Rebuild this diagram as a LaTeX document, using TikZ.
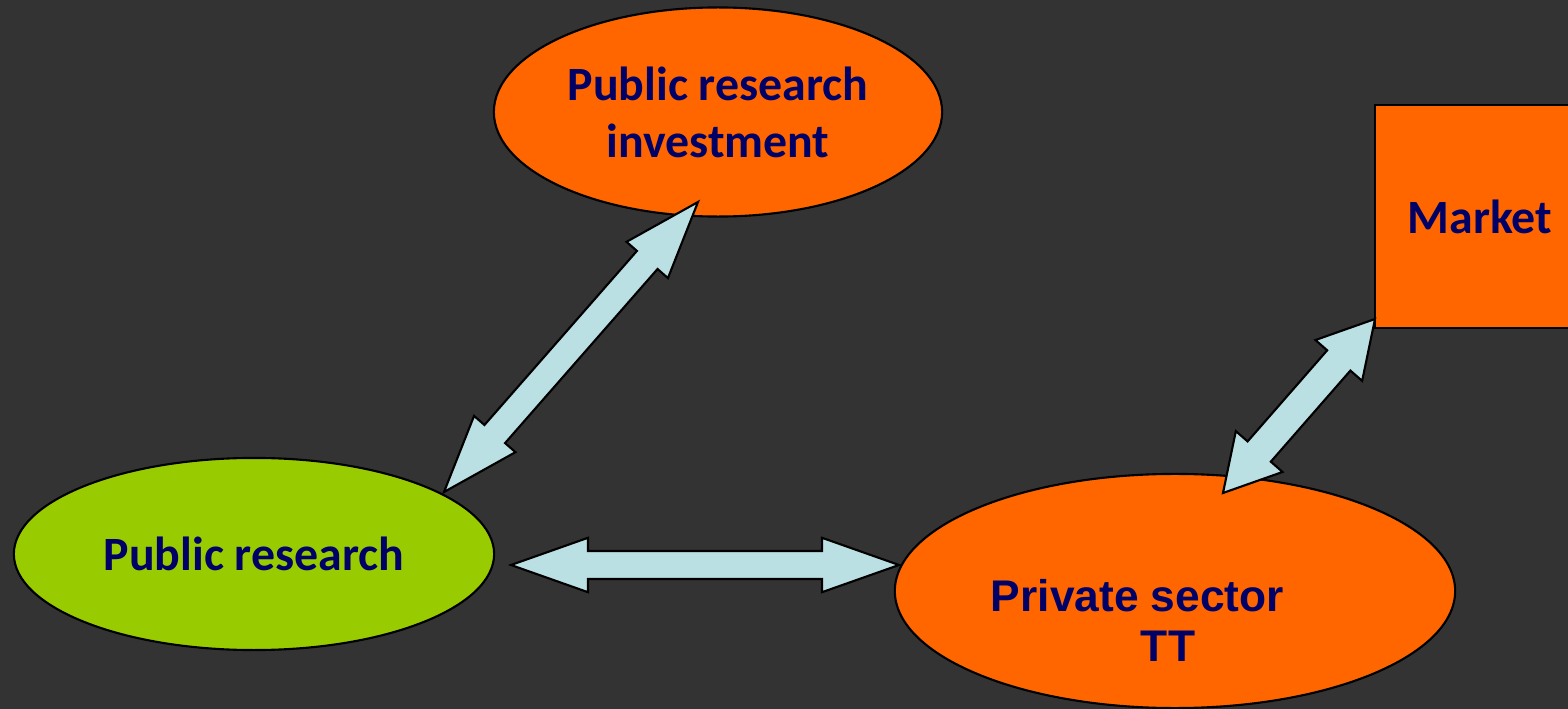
\documentclass[tikz,border=0pt]{standalone}
\usepackage{fontspec}
\usetikzlibrary{shapes.geometric,calc}
\newfontfamily\calfont{Carlito}
\newfontfamily\arifont{Liberation Sans}
\definecolor{bg}{HTML}{333333}
\definecolor{orng}{HTML}{FF6600}
\definecolor{lime}{HTML}{99CC00}
\definecolor{navy}{HTML}{000066}
\definecolor{pale}{HTML}{BBE0E3}
\newcommand{\blockarr}[5]{%
  \filldraw[arrowstyle] (#1)
    -- ($(#1)!#3!(#2)!#4!90:(#2)$)
    -- ($(#1)!#3!(#2)!#5!90:(#2)$)
    -- ($(#2)!#3!(#1)!#5!-90:(#1)$)
    -- ($(#2)!#3!(#1)!#4!-90:(#1)$)
    -- (#2)
    -- ($(#2)!#3!(#1)!#4!90:(#1)$)
    -- ($(#2)!#3!(#1)!#5!90:(#1)$)
    -- ($(#1)!#3!(#2)!#5!-90:(#2)$)
    -- ($(#1)!#3!(#2)!#4!-90:(#2)$)
    -- cycle;}
\begin{document}
\begin{tikzpicture}[x=0.01cm,y=-0.01cm,
  shapebox/.style={draw=black,line width=0.6pt,inner sep=0pt},
  oval/.style={shapebox,ellipse},
  caltext/.style={text=navy,font=\calfont\bfseries\fontsize{13.6}{16.2}\selectfont,align=center},
  aritext/.style={text=navy,font=\arifont\bfseries\fontsize{12.6}{14.2}\selectfont,align=center},
  arrowstyle/.style={fill=pale,draw=black,line width=0.6pt,line join=miter}]
\useasboundingbox (0,0) rectangle (1568,709);
\clip (0,0) rectangle (1568,709);
\fill[bg] (0,0) rectangle (1568,709);
% nodes
\node[oval,fill=orng,minimum width=4.48cm,minimum height=2.09cm,caltext] (pri) at (718,112) {Public research\\investment};
\node[oval,fill=lime,minimum width=4.8cm,minimum height=1.92cm,caltext] (pr) at (254,554) {Public research};
\node[oval,fill=orng,minimum width=5.6cm,minimum height=2.34cm] (pst) at (1175,591) {};
\node[aritext] (pstl) at (1137.5,620.5) {Private sector\\\hspace*{0.61cm}TT};
\node[shapebox,rectangle,fill=orng,minimum width=2.1cm,minimum height=2.23cm,caltext] (mkt) at (1480,216.5) {Market};
% arrow end points
\coordinate (a1s) at (444,492);
\coordinate (a1e) at (698,202);
\coordinate (a2s) at (511,565);
\coordinate (a2e) at (899,565);
\coordinate (a3s) at (1223,493);
\coordinate (a3e) at (1375,319);
\blockarr{a1s}{a1e}{0.77cm}{0.275cm}{0.137cm}
\blockarr{a2s}{a2e}{0.77cm}{0.272cm}{0.14cm}
\blockarr{a3s}{a3e}{0.55cm}{0.31cm}{0.154cm}
\end{tikzpicture}
\end{document}
